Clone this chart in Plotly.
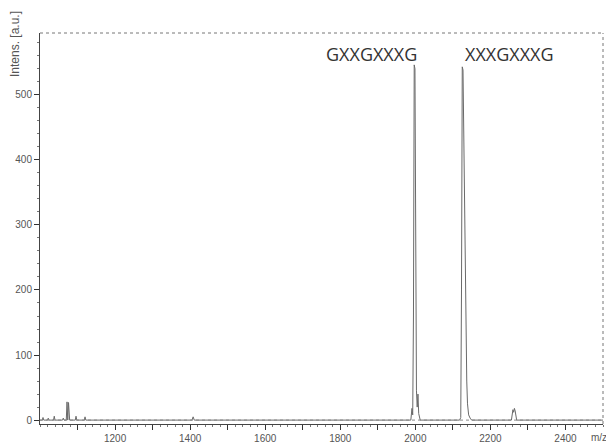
import plotly.graph_objects as go

# Spectrum profile points (m/z, intensity)
mz = [1000, 1006, 1008, 1010, 1020, 1022, 1024, 1036, 1038, 1040, 1060, 1062, 1064,
      1070, 1072, 1073, 1074, 1076, 1077, 1079, 1094, 1096, 1098, 1118, 1120, 1122,
      1405, 1408, 1411,
      1988, 1991, 1993, 1995, 1997, 1999, 2001, 2003, 2005, 2007, 2009, 2011, 2013,
      2118, 2121, 2123, 2125, 2127, 2129, 2131, 2133, 2135, 2137, 2139, 2142, 2146, 2150,
      2256, 2258, 2260, 2262, 2264, 2266, 2268, 2270,
      2500]
inten = [0, 0, 4, 0, 0, 3, 0, 0, 6, 0, 0, 3, 0,
         0, 28, 2, 0, 27, 2, 0, 0, 6, 0, 0, 5, 0,
         0, 5, 0,
         0, 18, 8, 160, 546, 540, 120, 45, 20, 40, 10, 3, 0,
         0, 4, 200, 543, 538, 420, 330, 250, 120, 60, 25, 8, 3, 0,
         0, 8, 16, 12, 18, 14, 6, 0,
         0]

x_tickvals = [1100, 1200, 1300, 1400, 1500, 1600, 1700, 1800, 1900, 2000, 2100, 2200, 2300, 2400]
x_ticktext = ["", "1200", "", "1400", "", "1600", "", "1800", "", "2000", "", "2200", "", "2400"]
y_tickvals = [0, 100, 200, 300, 400, 500]
labels = ["GXXGXXXG", "XXXGXXXG"]

fig = go.Figure()
fig.add_trace(go.Scatter(x=mz, y=inten, mode="lines",
                         line=dict(color="#6a6a6a", width=1.0), hoverinfo="skip"))

tickfont = dict(family="Liberation Sans, Arial, sans-serif", size=10, color="#555555")
# page body has an 8px margin, so the figure is sized/offset to compensate
fig.update_layout(
    width=606, height=439,
    margin=dict(l=32, r=11, t=25, b=23, autoexpand=False),
    paper_bgcolor="white", plot_bgcolor="white",
    showlegend=False,
    xaxis=dict(range=[1000, 2500], tickvals=x_tickvals, ticktext=x_ticktext, automargin=False,
               showgrid=False, zeroline=False, showline=True, linecolor="#444444", linewidth=1,
               ticks="outside", ticklen=5, tickwidth=1, tickcolor="#333333",
               minor=dict(dtick=20, ticks="outside", ticklen=2, tickcolor="#777777", showgrid=False),
               tickfont=tickfont),
    yaxis=dict(range=[-6, 595], tickvals=y_tickvals, automargin=False,
               showgrid=False, zeroline=False, showline=True, linecolor="#444444", linewidth=1,
               ticks="outside", ticklen=5, tickwidth=1, tickcolor="#333333",
               minor=dict(dtick=20, ticks="outside", ticklen=2, tickcolor="#777777", showgrid=False),
               tickfont=tickfont),
)

# dotted frame: top, right and data baseline
fig.add_shape(type="line", xref="paper", yref="paper", x0=0, x1=1, y0=1, y1=1,
              line=dict(color="#777777", width=1, dash="dot"))
fig.add_shape(type="line", xref="paper", yref="paper", x0=1, x1=1, y0=0, y1=1,
              line=dict(color="#777777", width=1, dash="dot"))
fig.add_shape(type="line", xref="x", yref="y", x0=1000, x1=2500, y0=0, y1=0,
              line=dict(color="#888888", width=1, dash="dot"))

fig.add_annotation(x=2011, y=1.0, xref="x", yref="paper", yshift=-7, text=labels[0],
                   showarrow=False, xanchor="right", yanchor="top",
                   font=dict(family="Open Sans, sans-serif", size=18, color="#333333"))
fig.add_annotation(x=2127, y=1.0, xref="x", yref="paper", yshift=-7, text=labels[1],
                   showarrow=False, xanchor="left", yanchor="top",
                   font=dict(family="Open Sans, sans-serif", size=18, color="#333333"))

fig.add_annotation(x=0, y=1, xref="paper", yref="paper", xshift=-25, yshift=24,
                   text="Intens. [a.u.]", textangle=-90, showarrow=False,
                   xanchor="center", yanchor="top",
                   font=dict(family="Liberation Sans, Arial, sans-serif", size=12, color="#555555"))
fig.add_annotation(x=1, y=0, xref="paper", yref="paper", xshift=6, yshift=-13,
                   text="m/z", showarrow=False, xanchor="right", yanchor="middle",
                   font=dict(family="Liberation Sans, Arial, sans-serif", size=10, color="#555555"))

fig.write_html("out.html")
